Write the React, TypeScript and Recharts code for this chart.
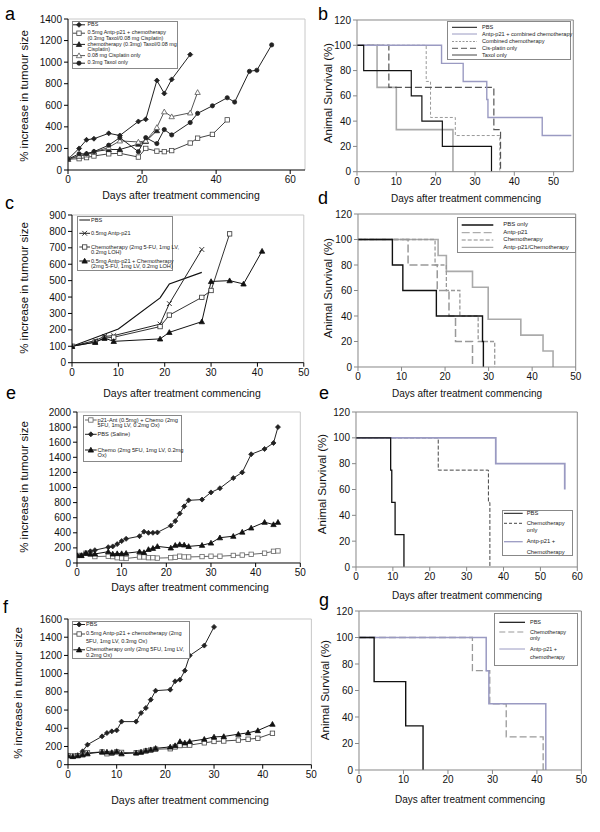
import React from 'react';
import { LineChart, Line, XAxis, YAxis, ReferenceLine } from 'recharts';

const FONT = '"Liberation Sans", Arial, Helvetica, sans-serif';
const LAV = '#9a9ac2';

// ---------- panel a: tumour growth ----------
const aPbsDays = [0, 3, 5, 7, 11, 14, 19, 21, 24, 26, 28, 33];
const aPbs = [100, 200, 280, 290, 340, 320, 450, 470, 830, 710, 840, 1070];
const aComboDays = [0, 3, 5, 7, 11, 14, 19, 21, 24, 26, 28, 33, 35, 39, 43];
const aCombo = [100, 105, 115, 130, 150, 155, 120, 200, 175, 170, 180, 250, 295, 330, 465];
const aChemoDays = [0, 3, 5, 7, 11, 14, 19, 21, 24];
const aChemo = [100, 130, 150, 170, 190, 190, 240, 265, 365];
const aCisDays = [0, 3, 5, 7, 11, 14, 19, 21, 24, 26, 28, 33, 35];
const aCis = [100, 130, 140, 165, 210, 270, 260, 270, 395, 540, 495, 530, 720];
const aTaxolDays = [0, 3, 5, 7, 11, 14, 19, 21, 24, 26, 28, 33, 35, 39, 43, 45, 49, 51, 55];
const aTaxol = [100, 150, 150, 170, 230, 300, 170, 300, 245, 375, 325, 440, 525, 595, 670, 630, 915, 925, 1160];

// ---------- panel b: survival ----------
const bPbsDays = [0, 1.7, 13.8, 16.5, 21.7, 34.2];
const bPbs = [100, 80, 60, 40, 20, 0];
const bComboDays = [0, 21.5, 27, 33, 33.3, 47.1, 54.5];
const bCombo = [100, 85.7, 71.4, 57.1, 42.9, 28.6, 28.6];
const bChemoDays = [0, 17.6, 18.7, 25, 36.3];
const bChemo = [100, 71.4, 42.9, 28.6, 0];
const bCisDays = [0, 8.1, 34.8, 36.5];
const bCis = [100, 66.7, 33.3, 0];
const bTaxolDays = [0, 5.1, 10, 24.4];
const bTaxol = [100, 66.7, 33.3, 0];

// ---------- panel c: tumour growth ----------
const cPbsDays = [0, 10, 19, 21, 28];
const cPbs = [100, 205, 395, 480, 550];
const cAntpDays = [0, 5, 7, 9, 19, 21, 28];
const cAntp = [100, 135, 160, 165, 235, 360, 690];
const cChemoDays = [0, 5, 7, 9, 19, 21, 28, 30, 34];
const cChemo = [100, 125, 150, 155, 220, 290, 398, 440, 785];
const cComboDays = [0, 5, 7, 9, 19, 21, 28, 30, 34, 37, 41];
const cCombo = [100, 125, 150, 130, 145, 185, 250, 495, 500, 480, 680];

// ---------- panel d: survival ----------
const dPbsDays = [0, 7.9, 10.3, 18, 28.6, 28.8];
const dPbs = [100, 80, 60, 40, 20, 0];
const dAntpDays = [0, 11.5, 18.2, 20.9, 22.4, 26.3];
const dAntp = [100, 80, 60, 40, 20, 0];
const dChemoDays = [0, 17.7, 20.3, 23.4, 27.6, 31.4];
const dChemo = [100, 80, 60, 40, 20, 0];
const dComboDays = [0, 18.4, 20.3, 26.3, 29.9, 37.4, 42.5, 44.8];
const dCombo = [100, 87.5, 75, 62.5, 37.5, 25, 12.5, 0];

// ---------- panel e (left): tumour growth ----------
const eDays = [0, 1, 2, 3, 4, 7, 8, 9, 10, 11, 14, 15, 16, 17, 18, 21, 22, 23, 24, 25, 28, 30, 32, 35, 37, 39, 42, 44, 45];
const ePbs = [100, 100, 130, 155, 170, 210, 220, 250, 290, 320, 355, 415, 400, 400, 405, 495, 555, 655, 750, 830, 840, 935, 990, 1125, 1200, 1440, 1510, 1590, 1800];
const eChemo = [100, 100, 130, 120, 120, 150, 120, 125, 125, 130, 150, 140, 180, 195, 220, 200, 235, 245, 240, 220, 235, 265, 335, 355, 410, 465, 540, 510, 540];
const eCombo = [100, 100, 130, 120, 85, 90, 85, 70, 65, 60, 80, 80, 70, 70, 65, 70, 75, 90, 80, 80, 85, 90, 90, 100, 105, 115, 130, 155, 160];

// ---------- panel e (right): survival ----------
const e2PbsDays = [0, 9.4, 9.7, 10.6, 13];
const e2Pbs = [100, 75, 50, 25, 0];
const e2ChemoDays = [0, 22.3, 35.9, 36.3];
const e2Chemo = [100, 75, 50, 0];
const e2ComboDays = [0, 37.9, 56.6];
const e2Combo = [100, 80, 60];

// ---------- panel f: tumour growth ----------
const fPbsDays = [0, 1, 2, 3, 4, 7, 8, 9, 10, 11, 14, 15, 16, 17, 18, 21, 22, 23, 24, 25, 28, 30];
const fPbs = [100, 92, 103, 147, 220, 311, 348, 366, 377, 473, 473, 568, 623, 714, 813, 824, 916, 934, 1033, 1198, 1308, 1513];
const fDays = [0, 1, 2, 3, 4, 7, 8, 9, 10, 11, 14, 15, 16, 17, 18, 21, 22, 23, 24, 25, 28, 30, 32, 35, 37, 39, 42];
const fCombo = [100, 95, 100, 110, 130, 140, 120, 125, 140, 135, 130, 135, 150, 160, 170, 175, 195, 210, 215, 215, 240, 255, 260, 270, 280, 290, 345];
const fChemo = [100, 90, 100, 110, 120, 140, 140, 135, 145, 120, 130, 140, 155, 165, 180, 195, 210, 255, 240, 255, 280, 305, 310, 335, 350, 375, 445];

// ---------- panel g: survival ----------
const gPbsDays = [0, 3.4, 10.5, 14.4];
const gPbs = [100, 66.7, 33.3, 0];
const gChemoDays = [0, 25.5, 29.4, 33.1, 41.4];
const gChemo = [100, 75, 50, 25, 0];
const gComboDays = [0, 28.6, 29.2, 42];
const gCombo = [100, 75, 50, 0];

const growthTicks = (max: number) => Array.from({ length: max / 200 + 1 }, (_, i) => i * 200);
const survTicks = [0, 20, 40, 60, 80, 100, 120];

type Pt = { x: number; y: number };
const pts = (xs: number[], ys: number[]): Pt[] => xs.map((x, i) => ({ x, y: ys[i] }));

type Shape = 'diamond' | 'square' | 'triangle' | 'circle' | 'cross';

function Mark({ shape, filled, color, cx, cy }: { shape: Shape; filled: boolean; color: string; cx: number; cy: number }) {
  const fill = filled ? color : '#fff';
  const s = 2.5;
  if (shape === 'diamond')
    return <path d={`M${cx},${cy - s} L${cx + s},${cy} L${cx},${cy + s} L${cx - s},${cy}Z`} fill={fill} stroke={color} strokeWidth={0.8} />;
  if (shape === 'square')
    return <rect x={cx - 2.2} y={cy - 2.2} width={4.4} height={4.4} fill={fill} stroke={color} strokeWidth={0.8} />;
  if (shape === 'triangle')
    return <path d={`M${cx},${cy - 2.7} L${cx + 2.7},${cy + 2.1} L${cx - 2.7},${cy + 2.1}Z`} fill={fill} stroke={color} strokeWidth={0.8} />;
  if (shape === 'circle') return <circle cx={cx} cy={cy} r={2.1} fill={fill} stroke={color} strokeWidth={0.8} />;
  return (
    <path d={`M${cx - 2.4},${cy - 2.4} L${cx + 2.4},${cy + 2.4} M${cx - 2.4},${cy + 2.4} L${cx + 2.4},${cy - 2.4}`} stroke={color} strokeWidth={0.9} />
  );
}

const dotFn = (shape: Shape, filled: boolean, color: string) => (props: any) => {
  const { cx, cy, index } = props;
  if (cx == null || cy == null) return <g key={`d${index}`} />;
  return (
    <g key={`d${index}`}>
      <Mark shape={shape} filled={filled} color={color} cx={cx} cy={cy} />
    </g>
  );
};

interface Series {
  data: Pt[];
  stroke: string;
  width?: number;
  dash?: string;
  shape?: Shape;
  filled?: boolean;
}

interface PanelProps {
  x0: number;
  x1: number;
  y0: number;
  y1: number;
  xMax: number;
  xTicks: number[];
  yMax: number;
  yTicks: number[];
  axis: string;
  frame: string;
  step?: boolean;
  series: Series[];
}

function Panel(p: PanelProps) {
  const ml = 50, mt = 8, mr = 14, mb = 24;
  const w = p.x1 - p.x0 + ml + mr;
  const h = p.y1 - p.y0 + mt + mb;
  const tick = { fontSize: 10, fill: '#111', fontFamily: FONT };
  return (
    <div style={{ position: 'absolute', left: p.x0 - ml, top: p.y0 - mt }}>
      <LineChart width={w} height={h} margin={{ top: mt, right: mr, bottom: 0, left: 0 }}>
        <XAxis
          type="number"
          dataKey="x"
          domain={[0, p.xMax]}
          ticks={p.xTicks}
          interval={0}
          allowDataOverflow
          height={mb}
          tick={tick}
          tickSize={4}
          axisLine={{ stroke: p.axis }}
          tickLine={{ stroke: p.axis }}
        />
        <YAxis
          type="number"
          domain={[0, p.yMax]}
          ticks={p.yTicks}
          interval={0}
          allowDataOverflow
          width={ml}
          tick={tick}
          tickSize={4}
          axisLine={{ stroke: p.axis }}
          tickLine={{ stroke: p.axis }}
        />
        <ReferenceLine y={p.yMax} stroke={p.frame} />
        <ReferenceLine x={p.xMax} stroke={p.frame} />
        {p.series.map((s, i) => (
          <Line
            key={i}
            data={s.data}
            dataKey="y"
            type={p.step ? 'stepAfter' : 'linear'}
            stroke={s.stroke}
            strokeWidth={s.width ?? 1}
            strokeDasharray={s.dash}
            dot={s.shape ? dotFn(s.shape, !!s.filled, s.stroke) : false}
            activeDot={false}
            isAnimationActive={false}
          />
        ))}
      </LineChart>
    </div>
  );
}

interface LegendItem {
  label: string[];
  y: number;
  gap?: number;
  stroke: string;
  width?: number;
  dash?: string;
  shape?: Shape;
  filled?: boolean;
}

function Legend({ box, sample, textX, size, items }: { box: number[]; sample: number[]; textX: number; size: number; items: LegendItem[] }) {
  const [bx0, by0, bx1, by1] = box;
  return (
    <>
      <div style={{ position: 'absolute', left: bx0, top: by0, width: bx1 - bx0, height: by1 - by0, border: '1px solid #888', background: '#fff', boxSizing: 'border-box' }} />
      <svg style={{ position: 'absolute', left: 0, top: 0, overflow: 'visible' }} width={1} height={1}>
        {items.map((it, i) => (
          <g key={i}>
            <line x1={sample[0]} x2={sample[1]} y1={it.y} y2={it.y} stroke={it.stroke} strokeWidth={it.width ?? 1} strokeDasharray={it.dash} />
            {it.shape && <Mark shape={it.shape} filled={!!it.filled} color={it.stroke} cx={(sample[0] + sample[1]) / 2} cy={it.y} />}
          </g>
        ))}
      </svg>
      {items.map((it, i) => {
        const g = it.gap ?? size * 0.85;
        return (
          <div
            key={i}
            style={{ position: 'absolute', left: textX, top: it.y - g / 2, fontSize: size, lineHeight: `${g}px`, fontFamily: FONT, color: '#222', whiteSpace: 'nowrap' }}
          >
            {it.label.map((l, j) => (
              <div key={j}>{l}</div>
            ))}
          </div>
        );
      })}
    </>
  );
}

function Txt({ x, y, size, rot, children }: { x: number; y: number; size: number; rot?: boolean; children: React.ReactNode }) {
  return (
    <div
      style={{
        position: 'absolute',
        left: x,
        top: y,
        fontSize: size,
        lineHeight: 1,
        fontFamily: FONT,
        color: '#111',
        whiteSpace: 'nowrap',
        transform: `translate(-50%, -50%)${rot ? ' rotate(-90deg)' : ''}`,
      }}
    >
      {children}
    </div>
  );
}

function Letter({ x, y, c }: { x: number; y: number; c: string }) {
  return <div style={{ position: 'absolute', left: x, top: y, fontSize: 18, lineHeight: '18px', fontFamily: FONT, color: '#000' }}>{c}</div>;
}

const DAYS = 'Days after treatment commencing';
const GROW = '% increase in tumour size';
const SURV = 'Animal Survival (%)';
const LFRAME = '#c8c8c8';
const RAXIS = '#888';

export default function App() {
  return (
    <div style={{ position: 'absolute', left: 0, top: 0, width: 600, height: 832, background: '#fff', overflow: 'hidden' }}>
      {/* a */}
      <Panel
        x0={68.3} x1={305.3} y0={19} y1={170}
        xMax={64} xTicks={[0, 20, 40, 60]} yMax={1400} yTicks={growthTicks(1400)}
        axis="#000" frame={LFRAME}
        series={[
          { data: pts(aPbsDays, aPbs), stroke: '#222', shape: 'diamond', filled: true },
          { data: pts(aComboDays, aCombo), stroke: '#444', shape: 'square' },
          { data: pts(aChemoDays, aChemo), stroke: '#222', shape: 'triangle', filled: true },
          { data: pts(aCisDays, aCis), stroke: '#555', shape: 'triangle' },
          { data: pts(aTaxolDays, aTaxol), stroke: '#222', shape: 'circle', filled: true },
        ]}
      />
      <Legend
        box={[72, 21, 178, 69]} sample={[73, 85]} textX={87.5} size={5.4}
        items={[
          { label: ['PBS'], y: 24.8, gap: 5.6, stroke: '#222', shape: 'diamond', filled: true },
          { label: ['0.5mg Antp-p21 + chemotherapy', '(0.3mg Taxol/0.08 mg Cisplatin)'], y: 33.2, gap: 5.6, stroke: '#444', shape: 'square' },
          { label: ['chemotherapy (0.3mg) Taxol/0.08 mg', 'Cisplatin)'], y: 44.4, gap: 5.6, stroke: '#222', shape: 'triangle', filled: true },
          { label: ['0.08 mg Cisplatin only'], y: 55.6, gap: 5.6, stroke: '#555', shape: 'triangle' },
          { label: ['0.3mg Taxol only'], y: 63.2, gap: 5.6, stroke: '#222', shape: 'circle', filled: true },
        ]}
      />
      <Txt x={181} y={195} size={10.5}>{DAYS}</Txt>
      <Txt x={25} y={96} size={11.5} rot>{GROW}</Txt>
      <Letter x={5} y={5} c="a" />

      {/* b */}
      <Panel
        x0={357.3} x1={573.6} y0={20} y1={171.7}
        xMax={55} xTicks={[0, 10, 20, 30, 40, 50]} yMax={120} yTicks={survTicks}
        axis={RAXIS} frame={RAXIS} step
        series={[
          { data: pts(bTaxolDays, bTaxol), stroke: '#aaa', width: 1.6 },
          { data: pts(bChemoDays, bChemo), stroke: '#999', dash: '3 2' },
          { data: pts(bCisDays, bCis), stroke: '#555', width: 1.2, dash: '7 3' },
          { data: pts(bComboDays, bCombo), stroke: LAV, width: 1.4 },
          { data: pts(bPbsDays, bPbs), stroke: '#111', width: 1.2 },
        ]}
      />
      <Legend
        box={[447, 20.7, 571, 60]} sample={[452, 477]} textX={482} size={5.6}
        items={[
          { label: ['PBS'], y: 27.3, stroke: '#111' },
          { label: ['Antp-p21 + combined chemotherapy'], y: 34, stroke: LAV },
          { label: ['Combined chemotherapy'], y: 41.5, stroke: '#999', dash: '2 1.5' },
          { label: ['Cis-platin only'], y: 48.3, stroke: '#555', dash: '6 3' },
          { label: ['Taxol only'], y: 55, stroke: '#444' },
        ]}
      />
      <Txt x={466} y={199} size={10}>{DAYS}</Txt>
      <Txt x={329} y={93} size={11.5} rot>{SURV}</Txt>
      <Letter x={318} y={5} c="b" />

      {/* c */}
      <Panel
        x0={71.7} x1={303.5} y0={215} y1={362.7}
        xMax={50} xTicks={[0, 10, 20, 30, 40, 50]} yMax={900} yTicks={[0, 100, 200, 300, 400, 500, 600, 700, 800, 900]}
        axis="#000" frame={LFRAME}
        series={[
          { data: pts(cPbsDays, cPbs), stroke: '#111', width: 1.2 },
          { data: pts(cAntpDays, cAntp), stroke: '#222', shape: 'cross' },
          { data: pts(cChemoDays, cChemo), stroke: '#333', shape: 'square' },
          { data: pts(cComboDays, cCombo), stroke: '#111', shape: 'triangle', filled: true },
        ]}
      />
      <Legend
        box={[77.3, 216, 173, 271]} sample={[79.3, 90]} textX={91} size={5.6}
        items={[
          { label: ['PBS'], y: 220, stroke: '#111' },
          { label: ['0.5mg Antp-p21'], y: 233.3, stroke: '#222', shape: 'cross' },
          { label: ['Chemotherapy (2mg 5-FU, 1mg LV,', '0.2mg LOH)'], y: 247, gap: 5, stroke: '#333', shape: 'square' },
          { label: ['0.5mg Antp-p21 + Chemotherapy', '(2mg 5-FU, 1mg LV, 0.2mg LOH)'], y: 261, gap: 5, stroke: '#111', shape: 'triangle', filled: true },
        ]}
      />
      <Txt x={182} y={392.7} size={10.5}>{DAYS}</Txt>
      <Txt x={25} y={288} size={11.5} rot>{GROW}</Txt>
      <Letter x={5} y={194} c="c" />

      {/* d */}
      <Panel
        x0={358.3} x1={576} y0={214.3} y1={367.3}
        xMax={50} xTicks={[0, 10, 20, 30, 40, 50]} yMax={120} yTicks={survTicks}
        axis={RAXIS} frame={RAXIS} step
        series={[
          { data: pts(dComboDays, dCombo), stroke: '#aaa', width: 1.6 },
          { data: pts(dChemoDays, dChemo), stroke: '#999', width: 1.3, dash: '4 2' },
          { data: pts(dAntpDays, dAntp), stroke: '#999', width: 1.5, dash: '8 3' },
          { data: pts(dPbsDays, dPbs), stroke: '#111', width: 1.4 },
        ]}
      />
      <Legend
        box={[457.3, 217.3, 576, 253.3]} sample={[461.7, 493.3]} textX={503.3} size={6}
        items={[
          { label: ['PBS only'], y: 225, stroke: '#111', width: 1.3 },
          { label: ['Antp-p21'], y: 232.7, stroke: '#999', dash: '8 3' },
          { label: ['Chemotherapy'], y: 240, stroke: '#888', dash: '4 2' },
          { label: ['Antp-p21/Chemotherapy'], y: 247.3, stroke: '#aaa', width: 1.3 },
        ]}
      />
      <Txt x={467} y={394} size={10}>{DAYS}</Txt>
      <Txt x={329} y={288} size={11.5} rot>{SURV}</Txt>
      <Letter x={318} y={189} c="d" />

      {/* e (left) */}
      <Panel
        x0={77.3} x1={300.6} y0={412.3} y1={563.3}
        xMax={50} xTicks={[0, 10, 20, 30, 40, 50]} yMax={2000} yTicks={growthTicks(2000)}
        axis="#000" frame={LFRAME}
        series={[
          { data: pts(eDays, eCombo), stroke: '#666', shape: 'square' },
          { data: pts(eDays, ePbs), stroke: '#222', shape: 'diamond', filled: true },
          { data: pts(eDays, eChemo), stroke: '#111', shape: 'triangle', filled: true },
        ]}
      />
      <Legend
        box={[82.7, 415, 182, 462]} sample={[85, 96.7]} textX={97.5} size={5.7}
        items={[
          { label: ['p21-Ant (0.5mg) + Chemo (2mg', '5FU, 1mg LV, 0.2mg Ox)'], y: 420, gap: 5, stroke: '#666', shape: 'square' },
          { label: ['PBS (Saline)'], y: 434.3, stroke: '#222', shape: 'diamond', filled: true },
          { label: ['Chemo (2mg 5FU, 1mg LV, 0.2mg', 'Ox)'], y: 450, gap: 5, stroke: '#111', shape: 'triangle', filled: true },
        ]}
      />
      <Txt x={190} y={587} size={10.5}>{DAYS}</Txt>
      <Txt x={25} y={487} size={11.5} rot>{GROW}</Txt>
      <Letter x={6} y={384} c="e" />

      {/* e (right) */}
      <Panel
        x0={356} x1={577.3} y0={411.7} y1={566.7}
        xMax={60} xTicks={[0, 10, 20, 30, 40, 50, 60]} yMax={120} yTicks={survTicks}
        axis={RAXIS} frame={RAXIS} step
        series={[
          { data: pts(e2ChemoDays, e2Chemo), stroke: '#444', dash: '4 2' },
          { data: pts(e2ComboDays, e2Combo), stroke: LAV, width: 1.8 },
          { data: pts(e2PbsDays, e2Pbs), stroke: '#111', width: 1.3 },
        ]}
      />
      <Legend
        box={[501.7, 510, 573, 555.5]} sample={[504, 522.7]} textX={526.7} size={5.8}
        items={[
          { label: ['PBS'], y: 513.3, stroke: '#111' },
          { label: ['Chemotherapy', 'only'], y: 523.3, gap: 6.7, stroke: '#444', dash: '3 2' },
          { label: ['Antp-p21 +', 'Chemotherapy'], y: 541.7, gap: 11, stroke: LAV, width: 1.3 },
        ]}
      />
      <Txt x={467} y={596} size={10}>{DAYS}</Txt>
      <Txt x={323} y={484} size={11.5} rot>{SURV}</Txt>
      <Letter x={319} y={384} c="e" />

      {/* f */}
      <Panel
        x0={68.3} x1={311.7} y0={619.3} y1={765}
        xMax={50} xTicks={[0, 10, 20, 30, 40, 50]} yMax={1600} yTicks={growthTicks(1600)}
        axis="#000" frame={LFRAME}
        series={[
          { data: pts(fPbsDays, fPbs), stroke: '#222', shape: 'diamond', filled: true },
          { data: pts(fDays, fCombo), stroke: '#444', shape: 'square' },
          { data: pts(fDays, fChemo), stroke: '#111', shape: 'triangle', filled: true },
        ]}
      />
      <Legend
        box={[71.7, 621, 190, 659]} sample={[73.3, 85]} textX={86} size={5.6}
        items={[
          { label: ['PBS'], y: 624.5, stroke: '#222', shape: 'diamond', filled: true },
          { label: ['0.5mg Antp-p21 + chemotherapy (2mg', '5FU, 1mg LV, 0.3mg Ox)'], y: 634, gap: 7.5, stroke: '#444', shape: 'square' },
          { label: ['Chemotherapy only (2mg 5FU, 1mg LV,', '0.2mg Ox)'], y: 649.8, gap: 5.6, stroke: '#111', shape: 'triangle', filled: true },
        ]}
      />
      <Txt x={190} y={800} size={10.5}>{DAYS}</Txt>
      <Txt x={19} y={693} size={11.5} rot>{GROW}</Txt>
      <Letter x={3} y={598} c="f" />

      {/* g */}
      <Panel
        x0={359.3} x1={581.7} y0={611} y1={770}
        xMax={50} xTicks={[0, 10, 20, 30, 40, 50]} yMax={120} yTicks={survTicks}
        axis={RAXIS} frame={RAXIS} step
        series={[
          { data: pts(gChemoDays, gChemo), stroke: '#999', width: 1.3, dash: '7 3' },
          { data: pts(gComboDays, gCombo), stroke: LAV, width: 1.5 },
          { data: pts(gPbsDays, gPbs), stroke: '#111', width: 1.4 },
        ]}
      />
      <Legend
        box={[494.3, 612.7, 578.3, 666]} sample={[499.3, 525]} textX={530} size={5.5}
        items={[
          { label: ['PBS'], y: 622.3, stroke: '#111', width: 1.2 },
          { label: ['Chemotherapy', 'only'], y: 632, gap: 6.3, stroke: '#999', dash: '6 3' },
          { label: ['Antp-p21 +', 'chemotherapy'], y: 649, gap: 8.7, stroke: LAV },
        ]}
      />
      <Txt x={470} y={800} size={10}>{DAYS}</Txt>
      <Txt x={326} y={690} size={11.5} rot>{SURV}</Txt>
      <Letter x={319} y={591} c="g" />
    </div>
  );
}
